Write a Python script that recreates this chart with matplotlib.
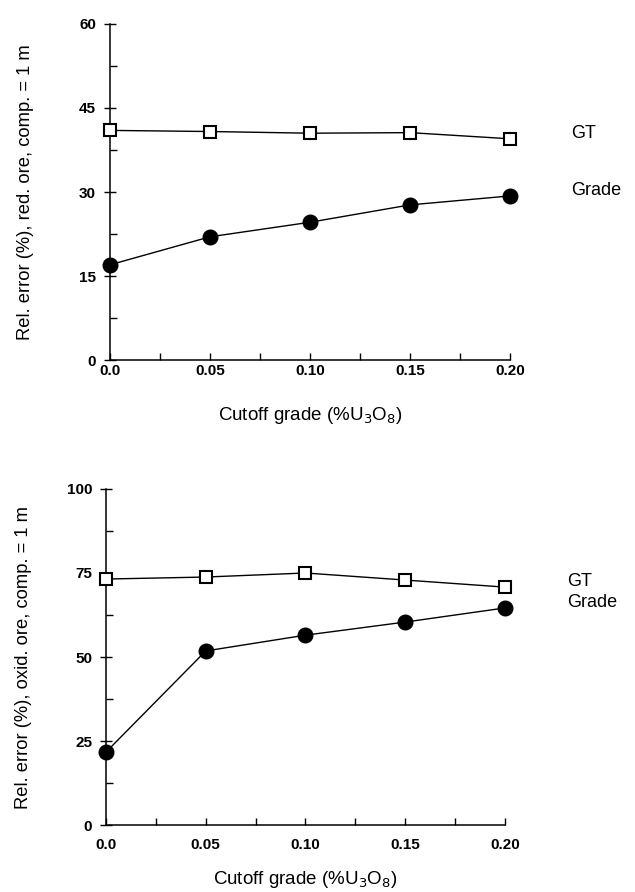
import matplotlib
matplotlib.use("Agg")
import matplotlib.pyplot as plt
from matplotlib.ticker import MultipleLocator

plt.rcParams['font.family'] = ['Liberation Sans', 'DejaVu Sans']

cutoff = [0.0, 0.05, 0.10, 0.15, 0.20]

# reduced ore, composite = 1 m
red_gt = [41.0, 40.8, 40.5, 40.6, 39.5]
red_grade = [17.0, 22.0, 24.6, 27.7, 29.3]

# oxidized ore, composite = 1 m
ox_gt = [73.2, 73.8, 75.0, 72.9, 70.8]
ox_grade = [21.7, 51.8, 56.5, 60.4, 64.6]

xticks = [0.0, 0.05, 0.10, 0.15, 0.20]
xticklabels = ["0.0", "0.05", "0.10", "0.15", "0.20"]

fig = plt.figure(figsize=(6.35, 8.92), dpi=100)
ax1 = fig.add_axes([0.1732, 0.5964, 0.630, 0.3767])
ax2 = fig.add_axes([0.1669, 0.0751, 0.6284, 0.3767])


def style_axes(ax, ymax, ystep, ylabel, ylab_x, xlab_y, xpad):
    ax.set_xlim(0, 0.20)
    ax.set_ylim(0, ymax)
    ax.spines['top'].set_visible(False)
    ax.spines['right'].set_visible(False)
    for s in ('left', 'bottom'):
        ax.spines[s].set_linewidth(1.1)
    ax.set_xticks(xticks)
    ax.set_xticklabels(xticklabels)
    ax.xaxis.set_minor_locator(MultipleLocator(0.025))
    ax.yaxis.set_major_locator(MultipleLocator(ystep))
    ax.yaxis.set_minor_locator(MultipleLocator(ystep / 2))
    ax.tick_params(axis='x', which='both', direction='in', length=5, width=1,
                   pad=xpad, labelsize=11)
    ax.tick_params(axis='y', which='major', direction='inout', length=8,
                   width=1, pad=6, labelsize=11)
    ax.tick_params(axis='y', which='minor', direction='in', length=5, width=1)
    for lab in ax.get_xticklabels() + ax.get_yticklabels():
        lab.set_fontweight('bold')
    ax.set_xlabel("Cutoff grade (%U$_3$O$_8$)", fontsize=13.5)
    ax.set_ylabel(ylabel, fontsize=13.2)
    ax.xaxis.set_label_coords(0.5, xlab_y)
    ax.yaxis.set_label_coords(ylab_x, 0.5)


def draw_series(ax, gt, grade):
    ax.plot(cutoff, gt, color='black', lw=1.0, marker='s', ms=8,
            mfc='white', mec='black', mew=1.5, clip_on=False, zorder=3)
    ax.plot(cutoff, grade, color='black', lw=1.0, marker='o', ms=10.5,
            mfc='black', mec='black', clip_on=False, zorder=3)


draw_series(ax1, red_gt, red_grade)
style_axes(ax1, 60, 15, "Rel. error (%), red. ore, comp. = 1 m",
           -0.19, -0.135, 3)
ax1.text(1.152, 40.5, "GT", transform=ax1.get_yaxis_transform(),
         fontsize=13, va='center', ha='left')
ax1.text(1.152, 30.3, "Grade", transform=ax1.get_yaxis_transform(),
         fontsize=13, va='center', ha='left')

draw_series(ax2, ox_gt, ox_grade)
style_axes(ax2, 100, 25, "Rel. error (%), oxid. ore, comp. = 1 m",
           -0.185, -0.13, 9)
ax2.text(1.155, 72.5, "GT", transform=ax2.get_yaxis_transform(),
         fontsize=13, va='center', ha='left')
ax2.text(1.155, 66.1, "Grade", transform=ax2.get_yaxis_transform(),
         fontsize=13, va='center', ha='left')

fig.savefig("out.png", dpi=100)
